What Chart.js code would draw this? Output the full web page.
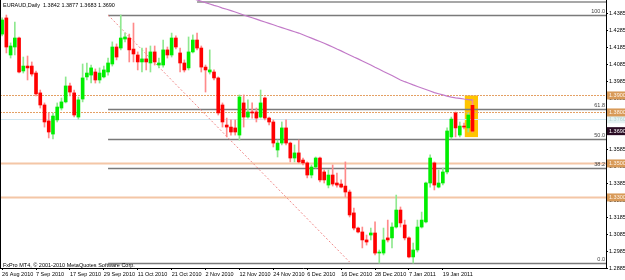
<!DOCTYPE html>
<html>
<head>
<meta charset="utf-8">
<script src="https://cdn.jsdelivr.net/npm/chart.js@4.4.1/dist/chart.umd.min.js"></script>
<style>
  html, body { margin: 0; padding: 0; background: #fff; overflow: hidden; }
  canvas { display: block; }
</style>
</head>
<body>
<canvas id="chart" width="625" height="280"></canvas>
<script>
// EURAUD daily, 26 Aug 2010 .. 27 Jan 2011
const openP = [
  1.4261,1.4356,1.4138,1.4185,1.4238,1.4044,1.4073,1.4073,1.4032,1.3915,
  1.3844,1.3750,1.3673,1.3756,1.3826,1.3862,1.3956,1.3915,1.3773,1.3879,
  1.4009,1.4020,1.4038,1.3991,1.4009,1.4038,1.4085,1.4185,1.4179,1.4232,
  1.4238,1.4173,1.4138,1.4097,1.4115,1.4091,1.4156,1.4079,1.4079,1.4168,
  1.4138,1.4238,1.4150,1.4091,1.4062,1.4156,1.4226,1.4179,1.4067,1.4038,
  1.4038,1.4003,1.3844,1.3726,1.3714,1.3709,1.3667,1.3856,1.3773,1.3803,
  1.3803,1.3773,1.3885,1.3767,1.3744,1.3579,1.3620,1.3709,1.3620,1.3532,
  1.3562,1.3520,1.3503,1.3432,1.3479,1.3532,1.3450,1.3373,1.3432,1.3385,
  1.3379,1.3367,1.3332,1.3209,1.3120,1.3097,1.3050,1.3079,1.3091,1.2973,
  1.2973,1.3062,1.3062,1.3126,1.3226,1.3138,1.3062,1.2950,1.2991,1.3126,
  1.3156,1.3385,1.3503,1.3361,1.3385,1.3450,1.3656,1.3797,1.3667,1.3720,1.3709,1.3842
];
const highP = [
  1.4356,1.4373,1.4209,1.4332,1.4244,1.4126,1.4132,1.4097,1.4044,1.3932,
  1.3856,1.3797,1.3797,1.3856,1.3885,1.4009,1.3973,1.3932,1.3891,1.4085,
  1.4091,1.4079,1.4056,1.4062,1.4073,1.4120,1.4215,1.4203,1.4373,1.4267,
  1.4261,1.4326,1.4156,1.4179,1.4179,1.4191,1.4191,1.4120,1.4226,1.4185,
  1.4267,1.4250,1.4179,1.4109,1.4244,1.4256,1.4267,1.4191,1.4079,1.4168,
  1.4050,1.4009,1.3856,1.3767,1.3756,1.3756,1.3903,1.3903,1.3874,1.3856,
  1.3826,1.3932,1.3891,1.3773,1.3756,1.3638,1.3744,1.3756,1.3626,1.3609,
  1.3638,1.3532,1.3509,1.3491,1.3538,1.3538,1.3462,1.3462,1.3491,1.3444,
  1.3403,1.3509,1.3344,1.3238,1.3126,1.3126,1.3079,1.3120,1.3156,1.2991,
  1.3120,1.3167,1.3150,1.3314,1.3244,1.3167,1.3068,1.3032,1.3167,1.3214,
  1.3391,1.3550,1.3509,1.3462,1.3473,1.3709,1.3773,1.3803,1.3744,1.3738,1.3797,1.3877
];
const lowP = [
  1.4250,1.4150,1.4120,1.4138,1.4032,1.4032,1.3991,1.4014,1.3897,1.3826,
  1.3714,1.3650,1.3644,1.3744,1.3814,1.3856,1.3897,1.3773,1.3761,1.3862,
  1.3991,1.3973,1.3973,1.3973,1.4003,1.4020,1.4073,1.4109,1.4168,1.4215,
  1.4097,1.4097,1.4050,1.4038,1.4050,1.4038,1.4079,1.4062,1.4067,1.4120,
  1.4126,1.4173,1.4038,1.4038,1.4050,1.4150,1.4168,1.4038,1.3920,1.4026,
  1.3991,1.3785,1.3714,1.3656,1.3667,1.3667,1.3638,1.3714,1.3767,1.3767,
  1.3744,1.3767,1.3756,1.3726,1.3597,1.3538,1.3609,1.3609,1.3509,1.3509,
  1.3503,1.3491,1.3415,1.3415,1.3473,1.3391,1.3385,1.3356,1.3367,1.3361,
  1.3356,1.3303,1.3185,1.3109,1.3091,1.3003,1.3020,1.3050,1.2962,1.2914,
  1.2962,1.3038,1.3003,1.3120,1.3126,1.3050,1.2944,1.2914,1.2979,1.3120,
  1.3150,1.3361,1.3344,1.3356,1.3373,1.3438,1.3644,1.3656,1.3656,1.3703,1.3685,1.3683
];
const closeP = [
  1.4344,1.4185,1.4191,1.4238,1.4038,1.4073,1.4062,1.4026,1.3909,1.3844,
  1.3744,1.3685,1.3779,1.3832,1.3862,1.3956,1.3920,1.3785,1.3874,1.4003,
  1.4032,1.4062,1.3991,1.4032,1.4050,1.4091,1.4185,1.4126,1.4238,1.4244,
  1.4168,1.4144,1.4097,1.4115,1.4097,1.4156,1.4097,1.4091,1.4168,1.4138,
  1.4238,1.4185,1.4091,1.4050,1.4156,1.4226,1.4179,1.4067,1.4050,1.4050,
  1.4003,1.3797,1.3744,1.3714,1.3685,1.3685,1.3891,1.3773,1.3803,1.3797,
  1.3767,1.3856,1.3767,1.3744,1.3620,1.3620,1.3709,1.3620,1.3532,1.3562,
  1.3509,1.3503,1.3432,1.3479,1.3532,1.3403,1.3403,1.3432,1.3379,1.3373,
  1.3361,1.3332,1.3197,1.3120,1.3097,1.3050,1.3038,1.3091,1.2973,1.2979,
  1.3050,1.3050,1.3126,1.3226,1.3150,1.3062,1.2950,1.2991,1.3126,1.3167,
  1.3385,1.3532,1.3373,1.3385,1.3450,1.3691,1.3761,1.3709,1.3720,1.3714,1.3785,1.3690
];

// moving average, bars 40..111 (above the top of the chart before ~45)
const maStart = 40;
const maValues = [
  1.4509,1.4501,1.4493,1.4486,1.4478,1.4470,1.4462,1.4454,1.4446,1.4438,
  1.4430,1.4423,1.4414,1.4407,1.4399,1.4391,1.4382,1.4373,1.4365,1.4357,
  1.4349,1.4340,1.4332,1.4324,1.4316,1.4307,1.4299,1.4291,1.4283,1.4275,
  1.4267,1.4257,1.4247,1.4237,1.4227,1.4217,1.4207,1.4196,1.4185,1.4173,
  1.4162,1.4150,1.4138,1.4126,1.4115,1.4103,1.4091,1.4079,1.4066,1.4054,
  1.4041,1.4029,1.4017,1.4004,1.3991,1.3981,1.3972,1.3962,1.3953,1.3944,
  1.3935,1.3926,1.3917,1.3910,1.3903,1.3896,1.3890,1.3886,1.3883,1.3879,
  1.3876,1.3873
];

// one date label every 8 bars
const dateTicks = ['26 Aug 2010','7 Sep 2010','17 Sep 2010','29 Sep 2010','11 Oct 2010','21 Oct 2010',
  '2 Nov 2010','12 Nov 2010','24 Nov 2010','6 Dec 2010','16 Dec 2010','28 Dec 2010','7 Jan 2011','19 Jan 2011'];
const priceTicks = [1.4385,1.4285,1.4185,1.4085,1.3985,1.3885,1.3785,1.3685,1.3585,1.3485,1.3385,1.3285,1.3185,1.3085,1.2985,1.2885];

// trendline (bar index, price)
const trendFrom = [25, 1.4373];
const trendTo = [82, 1.2920];

// fibonacci retracement
const fibHigh = 1.4376, fibLow = 1.2914, fibStartBar = 25;
const fibLevels = [0, 38.2, 50, 61.8, 100];

// horizontal levels with price labels
const orangeLevels = [1.3900, 1.3800, 1.3500, 1.3300];
const blueLevel = 1.3760;
const lastPrice = 1.3690;

const totalBars = 143; // includes empty space on the right (chart shift)
const labels = [];
for (let i = 0; i < totalBars; i++) labels.push(i);

const FONT = '5.5px "Liberation Sans", Arial, sans-serif';

const bodies = openP.map((o, i) => [o, closeP[i]]);
const wicks = lowP.map((l, i) => [l, highP[i]]);
const isUp = openP.map((o, i) => closeP[i] >= o);

const maData = labels.map(i => (i >= maStart && i - maStart < maValues.length) ? maValues[i - maStart] : null);
const trendData = labels.map(i => i === trendFrom[0] ? trendFrom[1] : (i === trendTo[0] ? trendTo[1] : null));

const overlay = {
  id: 'overlay',
  beforeDatasetsDraw(chart) {
    const { ctx, chartArea: a, scales: { x, y } } = chart;
    ctx.save();
    // highlight box around last two bars
    const bx1 = x.getPixelForValue(110) - 3.5, bx2 = x.getPixelForValue(111) + 5.5;
    const by1 = y.getPixelForValue(1.3900), by2 = y.getPixelForValue(1.3655);
    ctx.fillStyle = '#ffc400';
    ctx.fillRect(bx1, by1, bx2 - bx1, by2 - by1);

    // light blue level
    ctx.strokeStyle = '#cfe6f0';
    ctx.lineWidth = 1;
    let yy = Math.round(y.getPixelForValue(blueLevel)) + 0.5;
    ctx.beginPath(); ctx.moveTo(a.left, yy); ctx.lineTo(a.right, yy); ctx.stroke();

    // orange levels
    orangeLevels.forEach((p, k) => {
      yy = Math.round(y.getPixelForValue(p)) + 0.5;
      ctx.strokeStyle = k < 2 ? '#e4a064' : '#f4c6a6';
      ctx.lineWidth = k < 2 ? 1 : 2;
      ctx.setLineDash(k < 2 ? [2, 1] : []);
      ctx.beginPath(); ctx.moveTo(a.left, yy); ctx.lineTo(a.right, yy); ctx.stroke();
    });
    ctx.setLineDash([]);

    // top line
    ctx.strokeStyle = '#8a8a8a';
    ctx.lineWidth = 1.5;
    ctx.beginPath(); ctx.moveTo(x.getPixelForValue(46), a.top + 2); ctx.lineTo(a.right, a.top + 2); ctx.stroke();

    // fib levels
    const fx = x.getPixelForValue(fibStartBar);
    ctx.strokeStyle = '#7a7a7a';
    ctx.lineWidth = 1.5;
    ctx.font = FONT;
    ctx.fillStyle = '#444';
    ctx.textAlign = 'right';
    ctx.textBaseline = 'bottom';
    fibLevels.forEach(lv => {
      const p = fibLow + (fibHigh - fibLow) * lv / 100;
      const py = Math.round(y.getPixelForValue(p)) + 0.5;
      ctx.beginPath(); ctx.moveTo(fx, py); ctx.lineTo(a.right, py); ctx.stroke();
      ctx.fillText(lv.toFixed(1), a.right - 1, py - 1);
    });
    ctx.restore();
  },
  afterDraw(chart) {
    const { ctx, chartArea: a, scales: { y } } = chart;
    ctx.save();
    // frame
    ctx.strokeStyle = '#000';
    ctx.lineWidth = 1;
    ctx.beginPath();
    ctx.moveTo(a.left + 0.5, a.top); ctx.lineTo(a.left + 0.5, a.bottom);
    ctx.stroke();

    ctx.font = FONT;
    ctx.textBaseline = 'middle';
    ctx.textAlign = 'left';
    ctx.fillStyle = '#000';
    ctx.fillText('EURAUD,Daily  1.3842 1.3877 1.3683 1.3690', a.left + 3, 5);
    ctx.fillText('FxPro MT4, \u00a9 2001-2010 MetaQuotes Software Corp.', a.left + 3, a.bottom - 3);

    // price labels on the axis
    const tag = (p, bg, fg) => {
      const py = y.getPixelForValue(p);
      ctx.fillStyle = bg;
      ctx.fillRect(a.right + 1, py - 4, chart.width - a.right - 1, 8);
      ctx.fillStyle = fg;
      ctx.fillText(p.toFixed(4), a.right + 3, py + 0.5);
    };
    tag(blueLevel, '#e4f2f2', '#b8d4d4');
    orangeLevels.forEach(p => tag(p, '#d89a58', '#fff4e8'));
    tag(lastPrice, '#2a0c24', '#ffffff');
    ctx.restore();
  }
};

new Chart(document.getElementById('chart'), {
  data: {
    labels: labels,
    datasets: [
      {
        type: 'line',
        data: maData,
        borderColor: '#c27ac8',
        borderWidth: 1.2,
        pointRadius: 0,
        tension: 0,
        order: 0
      },
      {
        type: 'bar',
        data: bodies,
        backgroundColor: isUp.map(u => u ? '#00ee00' : '#ff0000'),
        barThickness: 3,
        minBarLength: 1,
        grouped: false,
        order: 1
      },
      {
        type: 'bar',
        data: wicks,
        backgroundColor: isUp.map(u => u ? '#8fe88f' : '#ff8a8a'),
        barThickness: 1,
        grouped: false,
        order: 2
      },
      {
        type: 'line',
        data: trendData,
        spanGaps: true,
        borderColor: '#f08a8a',
        borderWidth: 1,
        borderDash: [2, 2],
        pointRadius: 0,
        order: 3
      }
    ]
  },
  options: {
    responsive: false,
    animation: false,
    devicePixelRatio: 1,
    layout: { padding: 0 },
    plugins: { legend: { display: false }, tooltip: { enabled: false } },
    scales: {
      x: {
        type: 'category',
        offset: true,
        grid: {
          drawOnChartArea: false,
          offset: false,
          tickLength: 2,
          color: ctx => (ctx.index % 8 === 0 && ctx.index / 8 < dateTicks.length) ? '#000' : 'rgba(0,0,0,0)'
        },
        border: { display: true, color: '#000' },
        ticks: {
          autoSkip: false,
          maxRotation: 0,
          align: 'start',
          padding: 1,
          color: '#000',
          font: { family: '"Liberation Sans", Arial, sans-serif', size: 5.5 },
          callback: (v, i) => (i % 8 === 0 && i / 8 < dateTicks.length) ? dateTicks[i / 8] : ''
        },
        afterFit: s => { s.height = 12; s.paddingLeft = 0; s.paddingRight = 0; }
      },
      y: {
        position: 'right',
        min: 1.2885,
        max: 1.44615,
        grid: { drawOnChartArea: false, tickLength: 2, color: '#000' },
        border: { display: true, color: '#000' },
        afterBuildTicks: s => { s.ticks = priceTicks.map(v => ({ value: v })); },
        ticks: {
          padding: 1,
          color: '#000',
          font: { family: '"Liberation Sans", Arial, sans-serif', size: 5.5 },
          callback: v => Number(v).toFixed(4)
        },
        afterFit: s => { s.width = 19; s.paddingTop = 0; s.paddingBottom = 0; }
      }
    }
  },
  plugins: [overlay]
});
</script>
</body>
</html>
